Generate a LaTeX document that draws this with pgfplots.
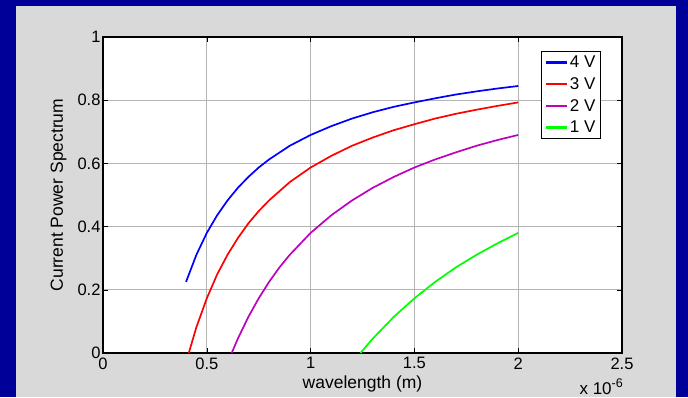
\documentclass[border=0pt]{standalone}
\usepackage{pgfplots}
\pgfplotsset{compat=1.18}
\usepackage{fontspec}
\setmainfont{Liberation Sans}
\definecolor{navyb}{RGB}{0,0,153}
\definecolor{bgg}{RGB}{217,217,217}
\definecolor{mpurple}{RGB}{191,0,191}
\definecolor{gridg}{RGB}{180,180,180}
\begin{document}
\begin{tikzpicture}[x=1pt,y=1pt]
\fill[navyb] (0,0) rectangle (688,-397);
\fill[bgg] (16,-6) rectangle (676,-397);
\begin{axis}[
  at={(103pt,-353pt)}, anchor=south west,
  scale only axis, width=519pt, height=316pt,
  xmin=0, xmax=2.5, ymin=0, ymax=1,
  xtick={0,0.5,1,1.5,2,2.5},
  ytick={0,0.2,0.4,0.6,0.8,1},
  /pgf/number format/assume math mode=true,
  /pgf/number format/fixed,
  tick label style={font=\fontsize{16.5}{16.5}\selectfont},
  xticklabel style={yshift=-1pt},
  yticklabel style={xshift=1pt},
  tick align=inside, tick pos=both,
  major tick length=5pt,
  tick style={black, line width=0.5pt},
  grid=major,
  grid style={gridg, line width=0.8pt},
  axis line style={black, line width=1.2pt},
  axis background/.style={fill=white},
  xlabel={wavelength (m)},
  ylabel={Current Power Spectrum},
  label style={font=\fontsize{17.5}{17.5}\selectfont},
  xlabel style={at={(axis description cs:0.5,0)}, anchor=base, yshift=-35pt},
  ylabel style={at={(axis description cs:0,0.5)}, anchor=south, yshift=33pt},
  legend style={at={(0.9595,0.9557)}, anchor=north east, draw=black, line width=1pt,
     font=\fontsize{17}{17}\selectfont, inner xsep=3pt, inner ysep=2.5pt, row sep=4.3pt},
  legend cell align=left,
  legend image code/.code={\draw[#1, line width=2.3pt] (0pt,0pt) -- (21pt,0pt);},
  every axis plot/.append style={line width=1.7pt},
]
\addplot[blue] coordinates {
(0.40,0.225)(0.45,0.311)(0.50,0.380)(0.55,0.436)(0.60,0.483)(0.65,0.523)(0.70,0.557)
(0.75,0.587)(0.80,0.6125)(0.90,0.656)(1.00,0.690)(1.10,0.718)(1.20,0.742)(1.30,0.762)
(1.40,0.779)(1.50,0.793)(1.60,0.806)(1.70,0.818)(1.80,0.828)(1.90,0.837)(2.00,0.845)};
\addlegendentry{4 V}
\addplot[red] coordinates {
(0.4133,0.0)(0.45,0.082)(0.50,0.173)(0.55,0.249)(0.60,0.311)(0.65,0.364)(0.70,0.410)
(0.75,0.449)(0.80,0.483)(0.90,0.541)(1.00,0.587)(1.10,0.624)(1.20,0.656)(1.30,0.682)
(1.40,0.705)(1.50,0.724)(1.60,0.742)(1.70,0.757)(1.80,0.770)(1.90,0.782)(2.00,0.793)};
\addlegendentry{3 V}
\addplot[mpurple] coordinates {
(0.62,0.0)(0.65,0.046)(0.70,0.114)(0.75,0.173)(0.80,0.225)(0.85,0.271)(0.90,0.311)
(1.00,0.380)(1.10,0.436)(1.20,0.483)(1.30,0.523)(1.40,0.557)(1.50,0.587)(1.60,0.6125)
(1.70,0.635)(1.80,0.656)(1.90,0.674)(2.00,0.690)};
\addlegendentry{2 V}
\addplot[green] coordinates {
(1.24,0.0)(1.30,0.046)(1.40,0.114)(1.50,0.173)(1.60,0.225)(1.70,0.271)(1.80,0.311)
(1.90,0.347)(2.00,0.380)};
\addlegendentry{1 V}
\end{axis}
\node[anchor=base east, font=\fontsize{17}{17}\selectfont, inner sep=0pt] at (623,-394) {x 10\raisebox{7pt}{\fontsize{12.5}{12.5}\selectfont -6}};
\end{tikzpicture}
\end{document}
